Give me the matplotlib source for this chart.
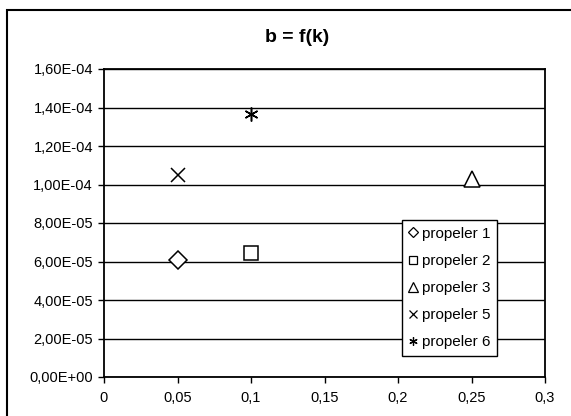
import matplotlib.pyplot as plt
from matplotlib.patches import Rectangle
from matplotlib.ticker import FuncFormatter

plt.rcParams['font.family'] = ['Liberation Sans', 'DejaVu Sans']

labels = ['propeler 1', 'propeler 2', 'propeler 3', 'propeler 5', 'propeler 6']
k_vals = [0.05, 0.1, 0.25, 0.05, 0.1]
b_vals = [6.1e-5, 6.45e-5, 1.03e-4, 1.05e-4, 1.365e-4]
markers = ['D', 's', '^', 'x', (6, 2, 0)]
sizes = [9, 10, 11, 10, 10]

fig = plt.figure(figsize=(5.71, 4.16), dpi=100)
fig.patches.append(Rectangle((7 / 571, -0.1), 1.2, (416 - 10) / 416 + 0.1,
                             transform=fig.transFigure, fill=False,
                             edgecolor='black', linewidth=1.5))
ax = fig.add_axes([104 / 571, 39 / 416, 441 / 571, 308 / 416])

for k, b, m, s, lab in zip(k_vals, b_vals, markers, sizes, labels):
    ax.plot([k], [b], linestyle='none', marker=m, markersize=s,
            markerfacecolor='white', markeredgecolor='black',
            markeredgewidth=1.1, label=lab, clip_on=False, zorder=3)

ax.set_xlim(0, 0.3)
ax.set_ylim(0, 1.6e-4)
ax.set_xticks([0, 0.05, 0.1, 0.15, 0.2, 0.25, 0.3])
ax.set_yticks([i * 2e-5 for i in range(9)])
ax.xaxis.set_major_formatter(FuncFormatter(lambda v, p: ('%g' % round(v, 2)).replace('.', ',')))
ax.yaxis.set_major_formatter(FuncFormatter(lambda v, p: ('%.2E' % v).replace('.', ',')))
ax.grid(axis='y', color='black', linewidth=1)
ax.set_axisbelow(True)
for side in ['top', 'right', 'left', 'bottom']:
    ax.spines[side].set_linewidth(1.3)
ax.tick_params(axis='both', direction='out', length=4, width=1, labelsize=10.5, pad=4)
ax.tick_params(axis='x', pad=6)

fig.text(297 / 571, 1 - 37 / 416, 'b = f(k)', fontsize=14, fontweight='bold',
         ha='center', va='center')

leg = ax.legend(loc='upper left', bbox_to_anchor=(0.676, 0.51), fontsize=11,
                frameon=True, fancybox=False, edgecolor='black', framealpha=1,
                handlelength=0.5, handletextpad=0.35, borderpad=0.45,
                labelspacing=0.86, markerscale=0.6, borderaxespad=0)
leg.get_frame().set_linewidth(1)
for h in leg.legend_handles:
    h.set_markeredgewidth(0.9)

fig.savefig('out.png', dpi=100)
